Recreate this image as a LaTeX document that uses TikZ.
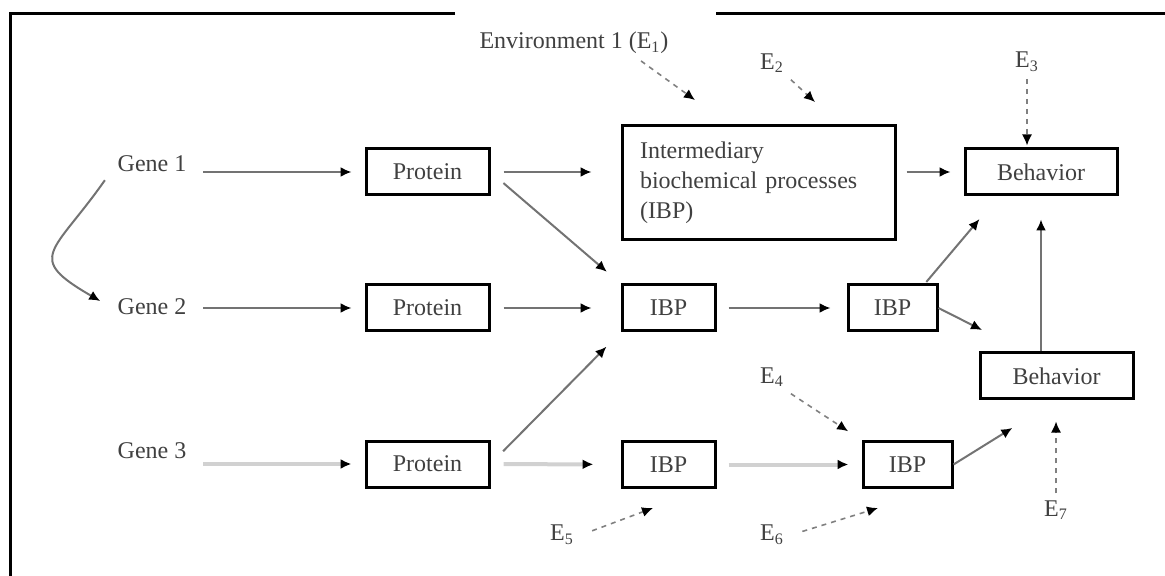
\documentclass[tikz,border=0pt]{standalone}
\usepackage{fontspec}
\setmainfont{Liberation Serif}
\usetikzlibrary{arrows.meta,calc}
\usetikzlibrary{positioning}

\begin{document}
\begin{tikzpicture}[x=0.5pt,y=-0.5pt,
	font=\fontsize{12}{15}\selectfont,
	every node/.style={text=black!75},
	box/.style={draw=black,line width=1.5pt,minimum width=61.5pt,minimum height=23pt,inner sep=2pt},
	link/.style={draw=black!55,line width=1pt,-{Latex[color=black,length=5.5pt,width=5pt]}},
	faint/.style={draw=black!18,line width=2pt,-{Latex[color=black,length=5.5pt,width=5pt]}},
	envlink/.style={draw=black!50,line width=0.8pt,dash pattern=on 2.5pt off 2.5pt,-{Latex[color=black,length=5.5pt,width=5pt]}}]
	
	\useasboundingbox (0,0) rectangle (1165,576);
	
	%frame
	\draw[line width=1.5pt] (455,14) -- (10,14) -- (10,576);
	\draw[line width=1.5pt] (716,14) -- (1165,14);
	
	% genes
	\node (gene1) at (152,164) {Gene 1};
	\node (gene2) at (152,307) {Gene 2};
	\node (gene3) at (152,451) {Gene 3};
	
	% proteins
	\node[box] (prot1) at (427.5,172) {Protein};
	\node[box] (prot2) at (427.5,308) {Protein};
	\node[box] (prot3) at (427.5,464) {Protein};
	
	% intermediary processes
	\node[box,minimum width=136.5pt,minimum height=57pt,text width=118.5pt,align=left,inner xsep=9pt] (ibp) at (758.5,183) {Intermediary\\biochemical processes\\(IBP)};
	\node[box,minimum width=46.5pt] (ibp2a) at (668.5,308) {IBP};
	\node[box,minimum width=44.5pt] (ibp2b) at (892.5,308) {IBP};
	\node[box,minimum width=46.5pt] (ibp3a) at (668.5,464.5) {IBP};
	\node[box,minimum width=44.5pt] (ibp3b) at (907.5,464.5) {IBP};
	
	% behavior
	\node[box,minimum width=76pt] (beh1) at (1041,172) {Behavior};
	\node[box,minimum width=76.5pt] (beh2) at (1056.5,376) {Behavior};
	
	% environments
	\node (env1) at (574,43) {Environment 1 (E\textsubscript{1})};
	\node (env2) at (772,63) {E\textsubscript{2}};
	\node (env3) at (1027,62) {E\textsubscript{3}};
	\node (env4) at (772,377) {E\textsubscript{4}};
	\node (env5) at (562,535) {E\textsubscript{5}};
	\node (env6) at (772,535) {E\textsubscript{6}};
	\node (env7) at (1056,510) {E\textsubscript{7}};
	
	\coordinate (tip1) at (695,100);
	\coordinate (tip2) at (815,102);
	\coordinate (tip5) at (653,508);
	\coordinate (tip6) at (878,508);
	\coordinate (tipb) at (982,330);
	
	%connections
	\draw[link,shorten <=5pt,shorten >=6.5pt] (gene1.east |- prot1) -- (prot1);
	\draw[link,shorten <=5pt,shorten >=6.5pt] (gene2.east |- prot2) -- (prot2);
	\draw[faint,shorten <=5pt,shorten >=6.5pt] (gene3.east |- prot3) -- (prot3);
	\draw[link,shorten <=5pt,shorten >=6pt] (gene1.west |- prot1) to[out=235,in=150,looseness=1.9] (gene2.west);
	
	\draw[link,shorten <=6.5pt,shorten >=14.5pt] (prot1) -- (prot1 -| ibp.west);
	\draw[link,shorten <=8.5pt,shorten >=9pt] (prot1.east) -- (ibp2a.north west);
	\draw[link,shorten <=6.5pt,shorten >=14.5pt] (prot2) -- (ibp2a);
	\draw[link,shorten <=9pt,shorten >=10pt] (prot3.east) -- (ibp2a.south west);
	\draw[faint,shorten <=6.5pt,shorten >=13.5pt] (prot3) -- (ibp3a);
	
	\draw[link,shorten <=6pt,shorten >=8pt] (ibp2a) -- (ibp2b);
	\draw[faint,shorten <=6pt,shorten >=6.5pt] (ibp3a) -- (ibp3b);
	
	\draw[link,shorten <=5pt,shorten >=6.5pt] (ibp.east |- beh1) -- (beh1);
	\draw[link,shorten <=1pt,shorten >=14.8pt] (ibp2b.37) -- (beh1.210);
	\draw[link] (ibp2b.east) -- (tipb);
	\draw[link,shorten >=26pt] (ibp3b.east) -- (beh2.south);
	\draw[link,shorten >=11.5pt] (beh2.north -| beh1.south) -- (beh1.south);
	
	%environment arrows
	\draw[envlink] (env1.-15) -- (tip1);
	\draw[envlink] (env2.south east) -- (tip2);
	\draw[envlink,shorten >=1pt] (env3) -- (env3 |- beh1.north);
	\draw[envlink,shorten >=8pt] (env4.south east) -- (ibp3b.north west);
	\draw[envlink,shorten <=6pt] (env5.east) -- (tip5);
	\draw[envlink,shorten <=6pt] (env6.east) -- (tip6);
	\draw[envlink,shorten >=10.5pt] (env7) -- (env7 |- beh2.south);
	
\end{tikzpicture}
\end{document}
